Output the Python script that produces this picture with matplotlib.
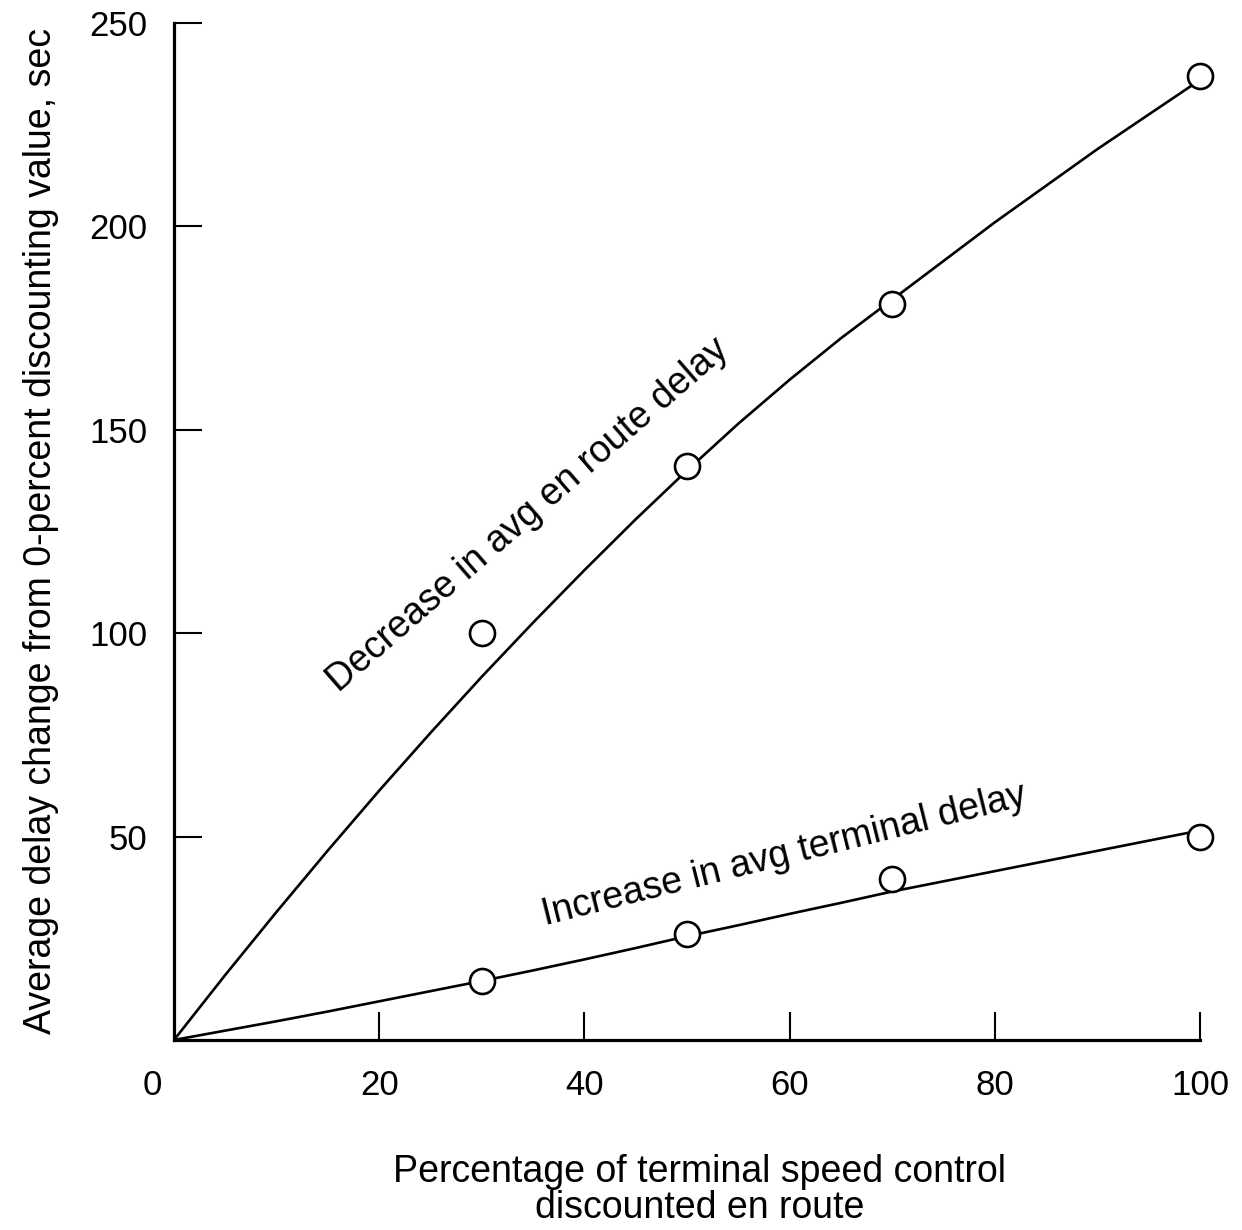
import matplotlib
matplotlib.use("Agg")
import matplotlib.pyplot as plt
from matplotlib.transforms import ScaledTranslation

plt.rcParams['font.family'] = ['Liberation Sans', 'DejaVu Sans']

# Measured points
pct_measured = [30, 50, 70, 100]
enroute_decrease = [100, 141, 181, 237]
terminal_increase = [14.5, 26, 39.5, 50]

# Faired curves through the measurements
curve_pct = [0, 5, 10, 15, 20, 25, 30, 35, 40, 45, 50,
             55, 60, 65, 70, 75, 80, 85, 90, 95, 100]
enroute_curve = [0, 16.0, 31.5, 46.6, 61.3, 75.5, 89.3, 102.6, 115.5, 128.0, 140.0,
                 151.5, 162.3, 172.5, 182.0, 191.5, 201.0, 210.0, 219.0, 227.5, 236.0]
terminal_curve = [0, 2.3, 4.6, 7.0, 9.5, 12.0, 14.5, 17.1, 19.8, 22.6, 25.5,
                  28.2, 31.0, 33.7, 36.5, 39.0, 41.5, 44.0, 46.5, 49.0, 51.5]

x_ticks = [0, 20, 40, 60, 80, 100]
y_ticks = [50, 100, 150, 200, 250]

fig = plt.figure(figsize=(12.42, 12.30), dpi=100)
ax = fig.add_axes([0.1401, 0.1545, 0.8261, 0.8268])

lw = 1.9
ax.plot(curve_pct, enroute_curve, color='black', lw=lw, zorder=2)
ax.plot(curve_pct, terminal_curve, color='black', lw=lw, zorder=2)
for ys in (enroute_decrease, terminal_increase):
    ax.plot(pct_measured, ys, linestyle='none', marker='o', markersize=18,
            markerfacecolor='white', markeredgecolor='black',
            markeredgewidth=1.9, clip_on=False, zorder=3)

ax.set_xlim(0, 100)
ax.set_ylim(0, 250)
for side in ('top', 'right'):
    ax.spines[side].set_visible(False)
for side in ('left', 'bottom'):
    ax.spines[side].set_linewidth(2.3)

ax.set_xticks(x_ticks)
ax.set_xticklabels([str(v) for v in x_ticks])
ax.set_yticks(y_ticks)
ax.set_yticklabels([str(v) for v in y_ticks])
ax.tick_params(axis='both', direction='in', length=20, width=1.5,
               labelsize=25, color='black')
ax.tick_params(axis='x', pad=21)
ax.tick_params(axis='y', pad=19)

# The shared origin label sits below-left of the corner
lbl0 = ax.get_xticklabels()[0]
lbl0.set_transform(lbl0.get_transform() +
                   ScaledTranslation(-0.22, 0, fig.dpi_scale_trans))
ax.xaxis.get_major_ticks()[0].tick1line.set_visible(False)

ax.set_xlabel('Percentage of terminal speed control\ndiscounted en route',
              fontsize=27, linespacing=1.0)
ax.xaxis.set_label_coords(0.512, -0.112)
ax.set_ylabel('Average delay change from 0-percent discounting value, sec',
              fontsize=27, labelpad=22)

ax.text(34.5, 129, 'Decrease in avg en route delay', fontsize=27,
        rotation=41, ha='center', va='center', rotation_mode='anchor')
ax.text(59.5, 45.5, 'Increase in avg terminal delay', fontsize=27,
        rotation=14, ha='center', va='center', rotation_mode='anchor')

fig.savefig('out.png', dpi=100)
